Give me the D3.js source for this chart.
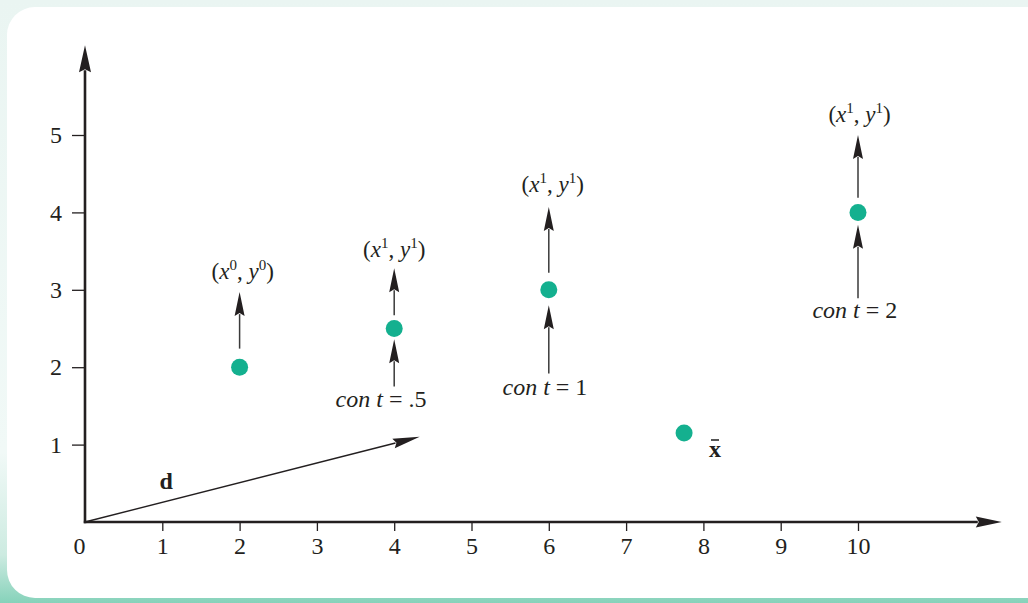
<!DOCTYPE html>
<html>
<head>
<meta charset="utf-8">
<script src="https://cdn.jsdelivr.net/npm/d3@7"></script>
<style>
  html, body { margin: 0; padding: 0; background: #ffffff; }
  svg { display: block; }
  text { font-family: "Liberation Serif", "Times New Roman", serif; fill: #231f20; }
</style>
</head>
<body>
<svg id="chart" width="1028" height="603"></svg>
<script>
// ---------- data ----------
const pointX = [2, 4, 6, 7.75, 10];
const pointY = [2, 2.5, 3, 1.15, 4];

// arrows above points (x, from y, to y)
const upArrowX    = [2, 4, 6, 10];
const upArrowFrom = [2.24, 2.67, 3.22, 4.19];
const upArrowTo   = [2.97, 3.28, 4.07, 5.0];

// arrows below points
const lowArrowX    = [4, 6, 10];
const lowArrowFrom = [1.75, 1.92, 2.89];
const lowArrowTo   = [2.36, 2.80, 3.84];

// point labels (superscript index)
const topLabelX   = [2.04, 4.0, 6.05, 10.02];
const topLabelY   = [3.14, 3.42, 4.26, 5.17];
const topLabelSup = ["0", "1", "1", "1"];

// step labels
const stepLabelText = [".5", "1", "2"];
const stepLabelX    = [3.83, 5.95, 9.96];
const stepLabelY    = [1.49, 1.64, 2.64];

// direction vector d
const dVector = [4.33, 1.10];
const dLabel  = { text: "d", x: 1.05, y: 0.43 };
const xbarLabel = { text: "x", x: 8.15, y: 0.84 };

const xTicks = [0, 1, 2, 3, 4, 5, 6, 7, 8, 9, 10];
const yTicks = [1, 2, 3, 4, 5];
const xAxisEnd = 11.86;
const yAxisEnd = 6.16;

// ---------- setup ----------
const W = 1028, H = 603;
const svg = d3.select("#chart");
const defs = svg.append("defs");
const grad = defs.append("linearGradient").attr("id", "bg").attr("x1", 0).attr("y1", 0).attr("x2", 0).attr("y2", 1);
grad.append("stop").attr("offset", "0%").attr("stop-color", "#eaf5f2");
grad.append("stop").attr("offset", "75%").attr("stop-color", "#f1f9f7");
grad.append("stop").attr("offset", "92%").attr("stop-color", "#cdebe1");
grad.append("stop").attr("offset", "100%").attr("stop-color", "#86d2ba");

svg.append("rect").attr("x", 0).attr("y", 0).attr("width", W).attr("height", H).attr("fill", "url(#bg)");
svg.append("rect").attr("x", 7).attr("y", 7).attr("width", 1050).attr("height", 591)
  .attr("rx", 28).attr("ry", 28).attr("fill", "#ffffff");

const x = d3.scaleLinear().domain([0, 10]).range([85, 858]);
const y = d3.scaleLinear().domain([0, 5]).range([522, 135]);

const INK = "#231f20";
const FONT = "Liberation Serif";

function arrow(g, x1, y1, x2, y2, len, w, sw, color) {
  const dx = x2 - x1, dy = y2 - y1;
  const L = Math.hypot(dx, dy);
  const ux = dx / L, uy = dy / L;
  const bx = x2 - ux * len, by = y2 - uy * len;
  const px = -uy, py = ux;
  g.append("line").attr("x1", x1).attr("y1", y1).attr("x2", bx + ux * 2).attr("y2", by + uy * 2)
    .attr("stroke", color).attr("stroke-width", sw);
  g.append("path")
    .attr("d", `M${x2},${y2}L${bx + px * w / 2},${by + py * w / 2}L${bx + ux * 3},${by + uy * 3}L${bx - px * w / 2},${by - py * w / 2}Z`)
    .attr("fill", INK);
}

const g = svg.append("g");

// ---------- axes ----------
const xAxis = d3.axisBottom(x).tickValues(xTicks).tickSize(9).tickPadding(6).tickFormat(d3.format("d"));
const gx = g.append("g").attr("transform", `translate(0,${y(0)})`).call(xAxis);
gx.attr("font-family", FONT);
gx.select(".domain").remove();
gx.selectAll(".tick line").attr("stroke", INK).attr("stroke-width", 1.3)
  .attr("display", d => d === 0 ? "none" : null);
gx.selectAll(".tick text").attr("font-size", 24).attr("fill", INK)
  .attr("dx", d => d === 0 ? -6 : 0);

const yAxis = d3.axisLeft(y).tickValues(yTicks).tickSize(13).tickPadding(10).tickFormat(d3.format("d"));
const gy = g.append("g").attr("transform", `translate(${x(0)},0)`).call(yAxis);
gy.attr("font-family", FONT);
gy.select(".domain").remove();
gy.selectAll(".tick line").attr("stroke", INK).attr("stroke-width", 1.3);
gy.selectAll(".tick text").attr("font-size", 24).attr("fill", INK);

// axis lines with arrowheads
arrow(g, x(0) - 1.2, y(0), x(xAxisEnd), y(0), 26, 11, 2.6, INK);
arrow(g, x(0), y(0) + 1.2, x(0), y(yAxisEnd), 27, 12, 2.6, INK);

// ---------- d vector ----------
arrow(g, x(0), y(0), x(dVector[0]), y(dVector[1]), 27, 10, 1.4, INK);
g.append("text").attr("x", x(dLabel.x)).attr("y", y(dLabel.y)).attr("text-anchor", "middle")
  .attr("font-size", 24).attr("font-weight", "bold").text(dLabel.text);

// ---------- annotation arrows ----------
upArrowX.forEach((v, i) => arrow(g, x(v), y(upArrowFrom[i]), x(v), y(upArrowTo[i]), 24, 10, 1.5, "#3a3a3a"));
lowArrowX.forEach((v, i) => arrow(g, x(v), y(lowArrowFrom[i]), x(v), y(lowArrowTo[i]), 24, 10, 1.5, "#3a3a3a"));

// ---------- points ----------
g.selectAll("circle.pt").data(pointX).enter().append("circle").attr("class", "pt")
  .attr("cx", d => x(d)).attr("cy", (d, i) => y(pointY[i])).attr("r", 8.5).attr("fill", "#14b08f");

// ---------- labels ----------
topLabelX.forEach((v, i) => {
  const t = g.append("text").attr("x", x(v)).attr("y", y(topLabelY[i])).attr("text-anchor", "middle").attr("font-size", 23);
  t.append("tspan").text("(");
  t.append("tspan").attr("font-style", "italic").text("x");
  t.append("tspan").attr("font-size", 15).attr("dy", -9).text(topLabelSup[i]);
  t.append("tspan").attr("dy", 9).text(", ");
  t.append("tspan").attr("font-style", "italic").text("y");
  t.append("tspan").attr("font-size", 15).attr("dy", -9).text(topLabelSup[i]);
  t.append("tspan").attr("dy", 9).text(")");
});

stepLabelText.forEach((s, i) => {
  const t = g.append("text").attr("x", x(stepLabelX[i])).attr("y", y(stepLabelY[i])).attr("text-anchor", "middle").attr("font-size", 24);
  t.append("tspan").attr("font-style", "italic").text("con t");
  t.append("tspan").text(" = " + s);
});

// x-bar label
const xb = g.append("text").attr("x", x(xbarLabel.x)).attr("y", y(xbarLabel.y)).attr("text-anchor", "middle")
  .attr("font-size", 24).attr("font-weight", "bold").text(xbarLabel.text);
const bb = xb.node().getBBox();
g.append("line").attr("x1", bb.x + 2).attr("x2", bb.x + bb.width - 2)
  .attr("y1", y(xbarLabel.y) - 17).attr("y2", y(xbarLabel.y) - 17)
  .attr("stroke", "#555").attr("stroke-width", 2);
</script>
</body>
</html>
